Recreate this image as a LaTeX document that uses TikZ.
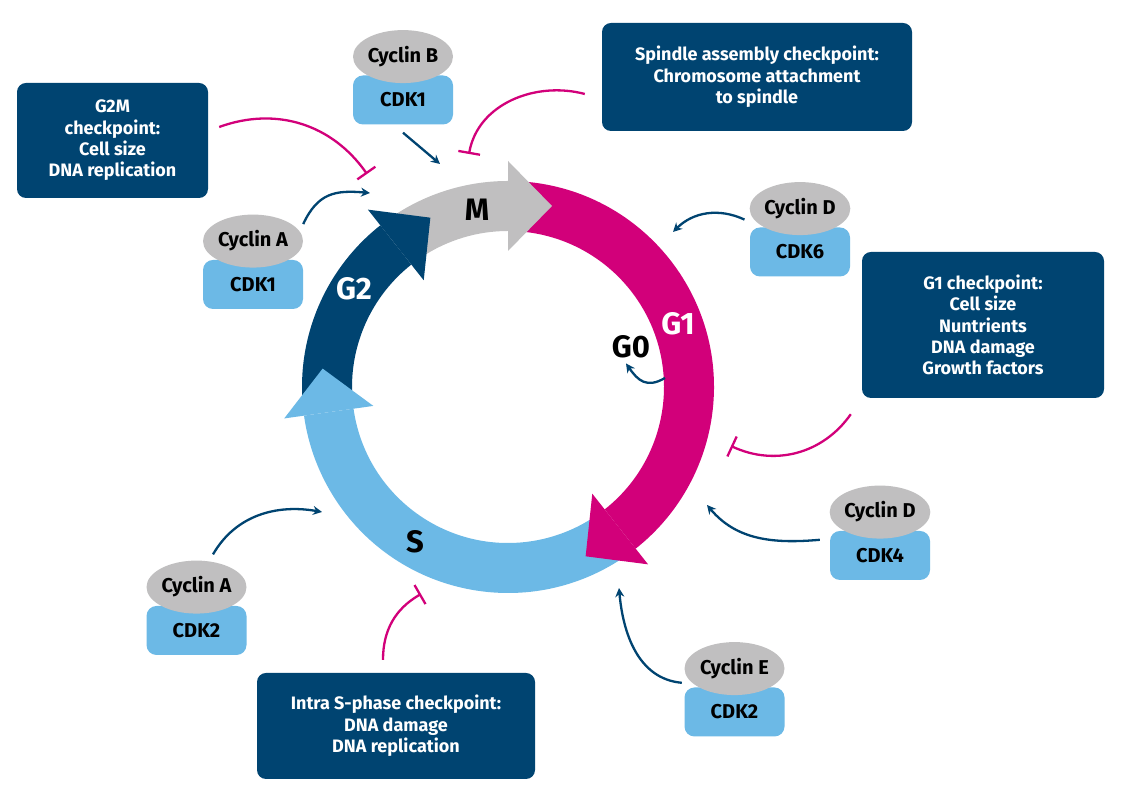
\documentclass[tikz,border=0pt]{standalone}
\usepackage{fontspec}
\setmainfont{Fira Sans}
\definecolor{cyclenavy}{RGB}{0, 68, 113}
\definecolor{cyclepink}{RGB}{210, 0, 122}
\definecolor{cyclesky}{RGB}{108, 185, 230}
\definecolor{cyclegrey}{RGB}{192, 191, 192}
\usepackage{tikz}
\usetikzlibrary{shapes.geometric, arrows.meta, positioning, calc}

\newcommand{\labelfont}{\fontsize{18}{21.3}\selectfont\bfseries}
\newcommand{\proteinfont}{\fontsize{20}{22}\selectfont\bfseries}
\newcommand{\phasefont}{\fontsize{31}{31}\selectfont\bfseries}

\begin{document}
\begin{tikzpicture}[x=1pt, y=1pt,
  checkbox/.style={fill=cyclenavy, rounded corners=9pt, text=white, align=center, font=\labelfont, inner sep=0pt},
  cdkbox/.style={fill=cyclesky, rounded corners=10pt, minimum width=100pt, minimum height=49pt, inner sep=0pt, font=\proteinfont},
  cyclin/.style={ellipse, fill=cyclegrey, minimum width=100pt, minimum height=53pt, inner sep=0pt, font=\proteinfont},
  activates/.style={draw=cyclenavy, line width=2.3pt, -{Stealth[length=9pt, width=9pt]}},
  inhibits/.style={draw=cyclepink, line width=2.3pt, -{Bar[width=22pt]}},
  phaselabel/.style={font=\phasefont, inner sep=0pt}]

  \fill[white] (0,0) rectangle (1125,799);
  \useasboundingbox (0,0) rectangle (1125,799);

  % The cycle: bands first, heads on top
  \coordinate (ctr) at (508,412);
  \begin{scope}[shift={(ctr)}]
    \fill[cyclepink] (85:206pt) arc[start angle=85, end angle=-51.7, radius=206pt] -- (-51.7:156pt) arc[start angle=-51.7, end angle=85, radius=156pt] -- cycle;
    \fill[cyclesky] (-56.5:206pt) arc[start angle=-56.5, end angle=-172, radius=206pt] -- (-172:156pt) arc[start angle=-172, end angle=-56.5, radius=156pt] -- cycle;
    \fill[cyclenavy] (183:206pt) arc[start angle=183, end angle=128.3, radius=206pt] -- (128.3:156pt) arc[start angle=128.3, end angle=183, radius=156pt] -- cycle;
    \fill[cyclegrey] (123.5:206pt) arc[start angle=123.5, end angle=90, radius=206pt] -- (90:156pt) arc[start angle=90, end angle=123.5, radius=156pt] -- cycle;

    \fill[cyclegrey] (90:136pt) -- (90:226pt) -- ([shift={(0:44pt)}]90:181pt) -- cycle;
    \fill[cyclepink] (-51.7:136pt) -- (-51.7:226pt) -- ([shift={(-141.7:44pt)}]-51.7:181pt) -- cycle;
    \fill[cyclesky] (188:136pt) -- (188:226pt) -- ([shift={(98:44pt)}]188:181pt) -- cycle;
    \fill[cyclenavy] (128.3:136pt) -- (128.3:226pt) -- ([shift={(38.3:44pt)}]128.3:181pt) -- cycle;
  \end{scope}

  % Phase labels
  \node[phaselabel] (mlabel) at (477,589) {M};
  \node[phaselabel, text=white] (g1label) at (678,475) {G1};
  \node[phaselabel] (g0label) at (631,452) {G0};
  \node[phaselabel, text=white] (g2label) at (354,510) {G2};
  \node[phaselabel] (slabel) at (415,257) {S};

  % Checkpoints
  \node[checkbox, minimum width=191pt, minimum height=115pt] (g2mbox) at (112.5,658.5) {G2M\\checkpoint:\\Cell size\\DNA replication};
  \node[checkbox, minimum width=310pt, minimum height=108pt] (sacbox) at (757,722) {Spindle assembly checkpoint:\\Chromosome attachment\\to spindle};
  \node[checkbox, minimum width=242pt, minimum height=146pt] (g1box) at (983,474) {G1 checkpoint:\\Cell size\\Nuntrients\\DNA damage\\Growth factors};
  \node[checkbox, minimum width=278pt, minimum height=106pt] (isbox) at (396,73) {Intra S-phase checkpoint:\\DNA damage\\DNA replication};

  % Cyclin-CDK complexes
  \node[cdkbox] (cdk1b) at (403,699) {CDK1};
  \node[cyclin, above=-8pt of cdk1b] (cycb) {Cyclin B};
  \node[cdkbox] (cdk1a) at (253,514.5) {CDK1};
  \node[cyclin, above=-8pt of cdk1a] (cyca) {Cyclin A};
  \node[cdkbox] (cdk6) at (800,547) {CDK6};
  \node[cyclin, above=-8pt of cdk6] (cycd6) {Cyclin D};
  \node[cdkbox] (cdk4) at (880,243.5) {CDK4};
  \node[cyclin, above=-8pt of cdk4] (cycd4) {Cyclin D};
  \node[cdkbox] (cdk2e) at (734.5,87) {CDK2};
  \node[cyclin, above=-8pt of cdk2e] (cyce) {Cyclin E};
  \node[cdkbox] (cdk2a) at (196.5,168.5) {CDK2};
  \node[cyclin, above=-8pt of cdk2a] (cyca2) {Cyclin A};

  % Free ends on the cycle
  \coordinate (mfromb) at (440,635);
  \coordinate (mfroma) at (370,606);
  \coordinate (g1fromd6) at (673,567);
  \coordinate (g1fromd4) at (707,294);
  \coordinate (sfrome) at (619,211);
  \coordinate (sfroma) at (322,287);
  \coordinate (g0from) at (665,421);
  \coordinate (g2mstop) at (367,625);
  \coordinate (mstop) at (469,645);
  \coordinate (g1stop) at (731,353);
  \coordinate (sstop) at (421,205);

  % Activation
  \draw[activates] ([yshift=-8pt]cdk1b.south) -- (mfromb);
  \draw[activates] ([yshift=17pt]cyca.east) to[out=65, in=175, looseness=1.2] (mfroma);
  \draw[activates] ([shift={(-5pt,-11pt)}]cycd6.west) to[out=155, in=45] (g1fromd6);
  \draw[activates] ([shift={(-10pt,-9pt)}]cdk4.north west) to[out=185, in=-50] (g1fromd4);
  \draw[activates] ([shift={(-2.5pt,4.5pt)}]cdk2e.north west) to[out=175, in=-85] (sfrome);
  \draw[activates] ([shift={(16.5pt,6pt)}]cyca2.north) to[out=60, in=170] (sfroma);
  \draw[activates] (g0from) to[out=210, in=-55, looseness=1.3] ([shift={(-5pt,-5pt)}]g0label.south);

  % Inhibition
  \draw[inhibits] ([shift={(11pt,13.5pt)}]g2mbox.east) to[out=20, in=125] (g2mstop);
  \draw[inhibits] ([shift={(-17pt,-17pt)}]sacbox.west) to[out=165, in=80] (mstop);
  \draw[inhibits] ([shift={(-11pt,-16pt)}]g1box.south west) to[out=235, in=-25] (g1stop);
  \draw[inhibits] ([shift={(-13pt,13pt)}]isbox.north) to[out=90, in=210] (sstop);
\end{tikzpicture}
\end{document}
